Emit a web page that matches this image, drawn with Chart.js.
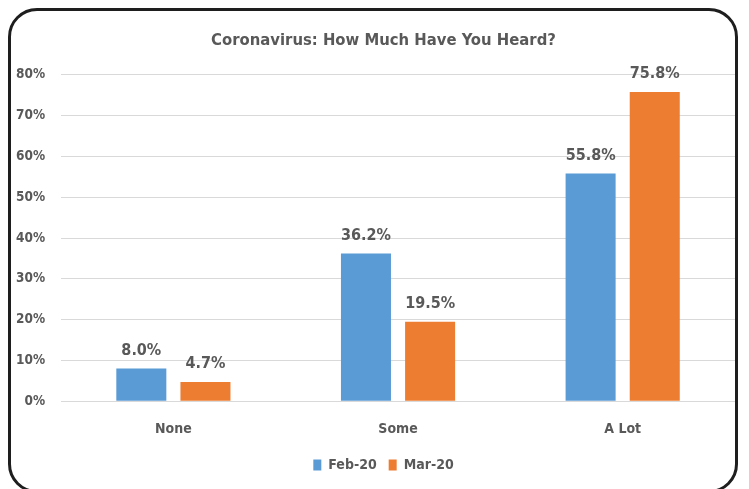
<!DOCTYPE html>
<html>
<head>
<meta charset="utf-8">
<script src="https://cdn.jsdelivr.net/npm/chart.js@4/dist/chart.umd.min.js"></script>
<style>
  html, body { margin: 0; padding: 0; background: #fff; }
  #wrap { position: relative; width: 749px; height: 489px; overflow: hidden; }
  #frame {
    position: absolute; left: 8px; top: 8px; width: 724px; height: 479px;
    border: 3px solid #1e1e1e; border-radius: 29px; pointer-events: none;
  }
  canvas { position: absolute; left: 0; top: 0; }
</style>
</head>
<body>
<div id="wrap">
  <canvas id="chart" width="749" height="489"></canvas>
  <div id="frame"></div>
</div>
<script>
// values
const categories = ['None', 'Some', 'A Lot'];
const feb20 = [8.0, 36.2, 55.8];
const mar20 = [4.7, 19.5, 75.8];
const seriesNames = ['Feb-20', 'Mar-20'];

const FONT = "'Liberation Sans Narrow', 'DejaVu Sans Condensed', 'Open Sans', sans-serif";
const GREY = '#595959';

// draws the value above each bar
const barLabels = {
    id: 'barLabels',
    afterDatasetsDraw(chart) {
        const ctx = chart.ctx;
        ctx.save();
        ctx.font = 'bold 16px ' + FONT;
        ctx.fillStyle = GREY;
        ctx.textAlign = 'center';
        ctx.textBaseline = 'bottom';
        chart.data.datasets.forEach((ds, i) => {
            chart.getDatasetMeta(i).data.forEach((bar, j) => {
                ctx.fillText(ds.data[j].toFixed(1) + '%', bar.x, bar.y - 10);
            });
        });
        ctx.restore();
    }
};

// title and legend sit a little right of the canvas centre in the original
const nudge = {
    id: 'nudge',
    afterLayout(chart) {
        [chart.titleBlock, chart.legend].forEach(box => {
            if (box) { box.left += 16; box.right += 16; }
        });
    }
};

new Chart(document.getElementById('chart'), {
    type: 'bar',
    data: {
        labels: categories,
        datasets: [{
            label: seriesNames[0],
            data: feb20,
            backgroundColor: '#5B9BD5'
        }, {
            label: seriesNames[1],
            data: mar20,
            backgroundColor: '#ED7D31'
        }]
    },
    options: {
        responsive: false,
        animation: false,
        layout: {
            padding: { left: 0, right: 14, top: 31, bottom: 7 }
        },
        datasets: {
            bar: {
                categoryPercentage: 0.571,
                barPercentage: 0.78
            }
        },
        scales: {
            x: {
                grid: { display: false },
                border: { display: false },
                ticks: {
                    color: GREY,
                    font: { family: FONT, size: 14, weight: 'bold' },
                    padding: 12
                },
                // pull the plot a bit closer to the legend
                afterFit: scale => { scale.height -= 4; }
            },
            y: {
                min: 0,
                max: 80,
                grid: { color: '#d9d9d9', drawTicks: false },
                border: { display: false },
                ticks: {
                    stepSize: 10,
                    color: GREY,
                    padding: 16,
                    font: { family: FONT, size: 13.5, weight: 'bold' },
                    callback: v => v + '%'
                }
            }
        },
        plugins: {
            title: {
                display: true,
                text: 'Coronavirus: How Much Have You Heard?',
                color: GREY,
                font: { family: FONT, size: 16.5, weight: 'bold' },
                padding: { top: 0, bottom: 24 }
            },
            legend: {
                position: 'bottom',
                labels: {
                    color: GREY,
                    boxWidth: 8,
                    boxHeight: 11,
                    padding: 12,
                    font: { family: FONT, size: 14, weight: 'bold' }
                }
            },
            tooltip: { enabled: false }
        }
    },
    plugins: [barLabels, nudge]
});
</script>
</body>
</html>
